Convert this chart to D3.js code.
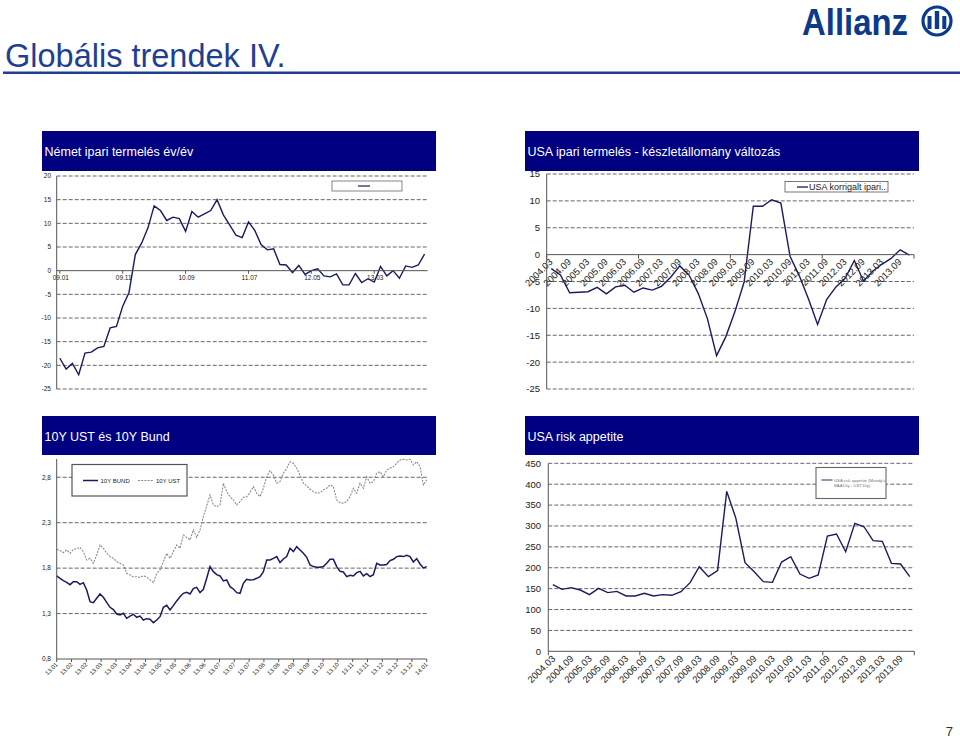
<!DOCTYPE html>
<html><head><meta charset="utf-8">
<script src="https://cdn.jsdelivr.net/npm/d3@7"></script>
<style>body{margin:0;background:#fff;} svg{display:block;font-family:"Liberation Sans",Arial,sans-serif;}</style>
</head><body><svg id="c" width="960" height="740"></svg>
<script>
// ---------- DATA ----------
const p1Title = "Német ipari termelés év/év";
const p1Ticks = ["09.01","09.11","10.09","11.07","12.05","13.03"];
const p1YTicks = [20,15,10,5,0,-5,-10,-15,-20,-25];
const p1Values = [-18.5,-20.8,-19.6,-22.0,-17.4,-17.2,-16.3,-16.0,-12.1,-11.8,
  -7.5,-4.6,3.4,5.8,9.0,13.7,12.7,10.6,11.3,11.0,
  8.3,12.5,11.3,12.0,12.7,15.0,11.8,9.7,7.5,7.0,
  10.3,8.5,5.5,4.4,4.6,1.3,1.2,-0.4,1.1,-0.8,
  0.0,0.4,-1.1,-1.3,-0.7,-3.0,-3.0,-0.6,-2.5,-1.7,
  -2.4,0.9,-1.1,0.0,-1.6,1.0,0.7,1.2,3.5];

const p2Title = "USA ipari termelés - készletállomány változás";
const p2Legend = "USA korrigalt ipari..";
const quarterTicks = ["2004.03","2004.09","2005.03","2005.09","2006.03","2006.09","2007.03","2007.09","2008.03","2008.09",
  "2009.03","2009.09","2010.03","2010.09","2011.03","2011.09","2012.03","2012.09","2013.03","2013.09"];
const p2YTicks = [15,10,5,0,-5,-10,-15,-20,-25];
const p2Values = [-2.6,-3.8,-7.1,-7.0,-6.9,-6.1,-7.3,-6.0,-5.7,-7.0,
  -6.2,-6.6,-5.9,-4.2,-2.1,-3.8,-7.2,-11.9,-18.8,-15.3,
  -10.6,-5.1,9.0,9.0,10.2,9.6,-0.3,-3.9,-8.2,-13.0,
  -8.3,-6.0,-4.4,-1.1,-4.9,-3.1,-1.8,-0.7,0.9,-0.1];

const p3Title = "10Y UST és 10Y Bund";
const p3Ticks = ["13.01","13.02","13.02","13.03","13.03","13.04","13.04","13.05","13.05","13.06","13.06","13.07","13.07",
  "13.07","13.08","13.08","13.09","13.09","13.10","13.10","13.11","13.11","13.12","13.12","13.12","14.01"];
const p3YTicks = [2.8,2.3,1.8,1.3,0.8];
const bund = [1.714,1.688,1.662,1.644,1.618,1.651,1.651,1.622,1.640,1.560,
  1.431,1.420,1.468,1.516,1.479,1.424,1.369,1.343,1.295,1.284,
  1.303,1.248,1.273,1.292,1.259,1.273,1.229,1.244,1.237,1.200,
  1.229,1.266,1.369,1.391,1.339,1.387,1.439,1.486,1.523,1.534,
  1.516,1.574,1.589,1.530,1.567,1.688,1.817,1.761,1.728,1.714,
  1.659,1.670,1.596,1.571,1.530,1.523,1.633,1.677,1.670,1.673,
  1.688,1.706,1.761,1.890,1.890,1.908,1.927,1.861,1.901,1.927,
  2.018,1.982,2.037,2.000,1.963,1.919,1.835,1.817,1.809,1.809,
  1.817,1.853,1.897,1.897,1.817,1.765,1.758,1.706,1.721,1.714,
  1.750,1.765,1.714,1.739,1.706,1.728,1.853,1.835,1.835,1.839,
  1.883,1.897,1.927,1.934,1.927,1.941,1.927,1.868,1.905,1.846,
  1.802,1.817];
const ust = [2.007,1.993,1.971,2.000,1.963,2.007,2.015,2.029,1.982,1.890,
  1.908,1.853,1.945,2.055,2.018,1.963,1.927,1.908,1.872,1.853,
  1.835,1.743,1.725,1.706,1.706,1.699,1.714,1.706,1.670,1.640,
  1.743,1.780,1.872,1.963,1.908,1.982,2.055,2.018,2.165,2.139,
  2.110,2.220,2.139,2.220,2.367,2.484,2.606,2.495,2.477,2.495,
  2.734,2.642,2.587,2.550,2.495,2.532,2.580,2.587,2.631,2.697,
  2.624,2.587,2.679,2.807,2.873,2.825,2.734,2.752,2.844,2.899,
  2.972,2.954,2.899,2.825,2.734,2.704,2.668,2.642,2.624,2.631,
  2.661,2.679,2.716,2.697,2.550,2.521,2.514,2.532,2.587,2.679,
  2.624,2.734,2.679,2.807,2.734,2.752,2.844,2.862,2.807,2.880,
  2.899,2.917,2.954,2.991,2.998,2.991,2.998,2.936,2.972,2.917,
  2.716,2.771];

const p4Title = "USA risk appetite";
const p4Legend = ["USA risk appetite (Moody's", "BAA10y - UST10y)"];
const p4YTicks = [450,400,350,300,250,200,150,100,50,0];
const p4Values = [159.5,148.3,152.3,146.7,135.6,150.7,140.4,143.5,132.4,132.4,
  138.8,132.4,135.6,134.0,142.7,164.3,202.6,178.6,193.0,382.8,
  318.2,212.1,190.6,166.7,165.1,213.7,226.5,185.0,174.6,182.6,
  275.9,280.7,238.4,306.2,298.2,264.8,263.2,210.5,208.9,178.6];

// ---------- DRAW ----------
const svg = d3.select("#c");
const NAVY = "#000080", LINE = "#1a1a62", AX = "#555", GRID = "#666", TXT = "#222";

// Title and logo
svg.append("text").attr("x",5).attr("y",67).attr("font-size",32.5).attr("fill","#1f3f92").text("Globális trendek IV.");
svg.append("rect").attr("x",3).attr("y",71.5).attr("width",957).attr("height",2.5).attr("fill","#1f3f92");
svg.append("text").attr("x",802).attr("y",35).attr("font-size",37).attr("font-weight","bold")
  .attr("fill","#0a3a8a").attr("textLength",106).attr("lengthAdjust","spacingAndGlyphs").text("Allianz");
svg.append("circle").attr("cx",937).attr("cy",21).attr("r",14).attr("fill","none").attr("stroke","#0a3a8a").attr("stroke-width",3.2);
svg.append("rect").attr("x",927.5).attr("y",16).attr("width",4).attr("height",13).attr("fill","#0a3a8a");
svg.append("rect").attr("x",934.8).attr("y",11).attr("width",4.4).attr("height",18).attr("fill","#0a3a8a");
svg.append("rect").attr("x",942.3).attr("y",16).attr("width",4).attr("height",13).attr("fill","#0a3a8a");
svg.append("text").attr("x",953).attr("y",736).attr("font-size",13).attr("text-anchor","end").attr("fill","#333").text("7");

function header(x,y,w,h,t){
  svg.append("rect").attr("x",x).attr("y",y).attr("width",w).attr("height",h).attr("fill",NAVY);
  svg.append("text").attr("x",x+2.5).attr("y",y+25).attr("font-size",12.5).attr("fill","#fff").text(t);
}
function grid(g,ys,x0,x1){
  g.selectAll(null).data(ys).enter().append("line")
    .attr("x1",x0).attr("x2",x1).attr("y1",d=>d).attr("y2",d=>d)
    .attr("stroke",GRID).attr("stroke-width",1).attr("stroke-dasharray","4,2");
}
function yLabels(g,ticks,y,x,fs,fmt){
  g.selectAll(null).data(ticks).enter().append("text")
    .attr("x",x).attr("y",d=>y(d)+fs*0.36).attr("text-anchor","end").attr("font-size",fs).attr("fill",TXT)
    .text(fmt||(d=>d));
}
function vline(x,y0,y1){ svg.append("line").attr("x1",x).attr("x2",x).attr("y1",y0).attr("y2",y1).attr("stroke",AX); }
function hline(y,x0,x1){ svg.append("line").attr("x1",x0).attr("x2",x1).attr("y1",y).attr("y2",y).attr("stroke",AX); }

// ---- Panel 1 ----
header(42,131,394,40,p1Title);
{
  const g = svg.append("g");
  const y = d3.scaleLinear().domain([-25,20]).range([389,176]);
  const x = d3.scalePoint().domain(d3.range(p1Values.length)).range([56.7,427.7]).padding(0.5);
  grid(g,p1YTicks.filter(d=>d!==0).map(y),56.7,427.7);
  vline(56.7,176,389); hline(y(0),56.7,427.7);
  yLabels(g,p1YTicks,y,51,6.5);
  p1Ticks.forEach((t,i)=>{
    const px = x(i*10);
    g.append("line").attr("x1",px).attr("x2",px).attr("y1",y(0)).attr("y2",y(0)+3).attr("stroke",AX);
    g.append("text").attr("x",px+1).attr("y",y(0)+9.5).attr("text-anchor","middle").attr("font-size",6.5).attr("fill",TXT).text(t);
  });
  g.append("path").datum(p1Values).attr("fill","none").attr("stroke",LINE).attr("stroke-width",1.4)
    .attr("d",d3.line().x((d,i)=>x(i)).y(d=>y(d)));
  g.append("rect").attr("x",332).attr("y",181).attr("width",70).attr("height",10).attr("fill","#fff").attr("stroke","#666").attr("stroke-width",0.8);
  g.append("line").attr("x1",358).attr("x2",370).attr("y1",186).attr("y2",186).attr("stroke",LINE).attr("stroke-width",1.2);
  g.append("text").attr("x",371).attr("y",188).attr("font-size",4).attr("fill","#bbb").text("...");
}

// ---- Panel 2 ----
header(525,131,394,40,p2Title);
{
  const g = svg.append("g");
  const y = d3.scaleLinear().domain([-25,15]).range([389,174]);
  const x = d3.scaleBand().domain(d3.range(p2Values.length)).range([546.7,914]);
  const cx = i => x(i)+x.bandwidth()/2;
  grid(g,p2YTicks.filter(d=>d!==0).map(y),546.7,914);
  vline(546.7,174,389); hline(y(0),546.7,914);
  yLabels(g,p2YTicks,y,540,9.5);
  [0,10,20,30].map(i=>x(i)).concat([914]).forEach(px=>{
    g.append("line").attr("x1",px).attr("x2",px).attr("y1",y(0)).attr("y2",y(0)+4).attr("stroke",AX);
  });
  g.append("path").datum(p2Values).attr("fill","none").attr("stroke",LINE).attr("stroke-width",1.4)
    .attr("d",d3.line().x((d,i)=>cx(i)).y(d=>y(d)));
  quarterTicks.forEach((t,k)=>{
    g.append("text").attr("transform",`translate(${cx(k*2)+2},${y(0)+8}) rotate(-45)`)
      .attr("text-anchor","end").attr("font-size",9.5).attr("fill",TXT).text(t);
  });
  g.append("rect").attr("x",785).attr("y",181.5).attr("width",103).attr("height",10.5).attr("fill","#fff").attr("stroke","#555").attr("stroke-width",0.8);
  g.append("line").attr("x1",797).attr("x2",808).attr("y1",187).attr("y2",187).attr("stroke",LINE).attr("stroke-width",1.3);
  g.append("text").attr("x",809).attr("y",190.3).attr("font-size",9).attr("fill",TXT).text(p2Legend);
}

// ---- Panel 3 ----
header(42,416,394,39,p3Title);
{
  const g = svg.append("g");
  const y = d3.scaleLinear().domain([0.8,3.0]).range([659,459.1]);
  const x = d3.scaleLinear().domain([0,bund.length-1]).range([56.7,426.7]);
  const xt = d3.scaleLinear().domain([0,p3Ticks.length-1]).range([56.7,426.7]);
  grid(g,p3YTicks.filter(d=>d!==0.8).map(y),56.7,426.7);
  vline(56.7,459,659); hline(659,56.7,426.7);
  yLabels(g,p3YTicks,y,51,6.5,d=>d3.format(".1f")(d).replace(".",","));
  p3Ticks.forEach((t,i)=>{
    const px = xt(i);
    g.append("line").attr("x1",px).attr("x2",px).attr("y1",659).attr("y2",662).attr("stroke",AX);
    g.append("text").attr("transform",`translate(${px+1.5},${665}) rotate(-45)`)
      .attr("text-anchor","end").attr("font-size",6).attr("fill",TXT).text(t);
  });
  g.append("path").datum(ust).attr("fill","none").attr("stroke","#8a8a8a").attr("stroke-width",1.1).attr("stroke-dasharray","2,1.2")
    .attr("d",d3.line().x((d,i)=>x(i)).y(d=>y(d)));
  g.append("path").datum(bund).attr("fill","none").attr("stroke",LINE).attr("stroke-width",1.5)
    .attr("d",d3.line().x((d,i)=>x(i)).y(d=>y(d)));
  g.append("rect").attr("x",72).attr("y",464.5).attr("width",115).attr("height",31.5).attr("fill","#fff").attr("stroke","#555").attr("stroke-width",1.2);
  g.append("line").attr("x1",83).attr("x2",98).attr("y1",480.5).attr("y2",480.5).attr("stroke",LINE).attr("stroke-width",1.5);
  g.append("text").attr("x",100.5).attr("y",482.8).attr("font-size",6).attr("fill",TXT).text("10Y BUND");
  g.append("line").attr("x1",138).attr("x2",153).attr("y1",480.5).attr("y2",480.5).attr("stroke","#8a8a8a").attr("stroke-width",1.1).attr("stroke-dasharray","2,1.2");
  g.append("text").attr("x",156).attr("y",482.8).attr("font-size",6).attr("fill",TXT).text("10Y UST");
}

// ---- Panel 4 ----
header(525,416,394,39,p4Title);
{
  const g = svg.append("g");
  const y = d3.scaleLinear().domain([0,450]).range([651.3,463.3]);
  const x = d3.scaleBand().domain(d3.range(p4Values.length)).range([548.3,914.3]);
  const cx = i => x(i)+x.bandwidth()/2;
  grid(g,p4YTicks.filter(d=>d!==0).map(y),548.3,914.3);
  vline(548.3,463.3,651.3); hline(651.3,548.3,914.3);
  yLabels(g,p4YTicks,y,541,9.5);
  [0,10,20,30].map(i=>x(i)).concat([914.3]).forEach(px=>{
    g.append("line").attr("x1",px).attr("x2",px).attr("y1",651.3).attr("y2",655.3).attr("stroke",AX);
  });
  g.append("path").datum(p4Values).attr("fill","none").attr("stroke",LINE).attr("stroke-width",1.4)
    .attr("d",d3.line().x((d,i)=>cx(i)).y(d=>y(d)));
  quarterTicks.forEach((t,k)=>{
    g.append("text").attr("transform",`translate(${cx(k*2)+3},${651.3+8}) rotate(-45)`)
      .attr("text-anchor","end").attr("font-size",9.5).attr("fill",TXT).text(t);
  });
  g.append("rect").attr("x",816).attr("y",467.5).attr("width",70).attr("height",31).attr("fill","#fff").attr("stroke","#666").attr("stroke-width",1.1);
  g.append("line").attr("x1",821.5).attr("x2",832.5).attr("y1",480).attr("y2",480).attr("stroke","#5a5a9a").attr("stroke-width",1.3);
  g.append("text").attr("x",834).attr("y",481.5).attr("font-size",4.3).attr("fill","#777").text(p4Legend[0]);
  g.append("text").attr("x",834).attr("y",486.5).attr("font-size",4.3).attr("fill","#777").text(p4Legend[1]);
}
</script></body></html>
